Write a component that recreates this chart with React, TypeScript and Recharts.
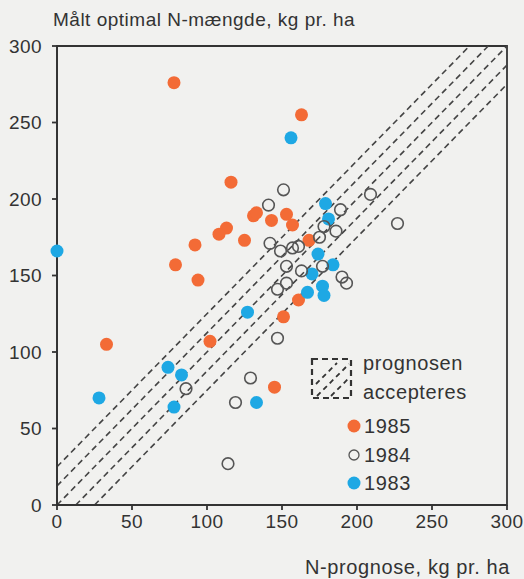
import {
  ScatterChart,
  Scatter,
  XAxis,
  YAxis,
  ReferenceLine,
  ReferenceArea,
} from 'recharts'

// [N-prognose, målt optimal N-mængde]
const year1985: [number, number][] = [
  [78, 276], [163, 255], [116, 211], [131, 189], [133, 191], [143, 186],
  [153, 190], [157, 183], [113, 181], [108, 177], [125, 173], [92, 170],
  [79, 157], [94, 147], [168, 173], [161, 134], [151, 123], [102, 107],
  [33, 105], [145, 77],
]

const year1984: [number, number][] = [
  [141, 196], [151, 206], [189, 193], [209, 203], [227, 184], [178, 182],
  [186, 179], [142, 171], [175, 175], [149, 166], [157, 168], [161, 169],
  [153, 156], [163, 153], [177, 156], [190, 149], [193, 145], [147, 141],
  [153, 145], [147, 109], [86, 76], [129, 83], [119, 67], [114, 27],
]

const year1983: [number, number][] = [
  [0, 166], [156, 240], [179, 197], [181, 187], [174, 164], [184, 157],
  [170, 151], [177, 143], [178, 137], [167, 139], [127, 126], [74, 90],
  [83, 85], [78, 64], [28, 70], [133, 67],
]

// band where the prognosis is accepted: y = x + offset
const bandOffsets = [-25, -12.5, 0, 12.5, 25]
const axisTicks = [0, 50, 100, 150, 200, 250, 300]

const ORANGE = '#f36b36'
const BLUE = '#1ea8e4'
const INK = '#333333'
const FONT = '"Liberation Sans", Arial, sans-serif'

const toPoints = (rows: [number, number][]) => rows.map(([x, y]) => ({ x, y }))

const filledDot = (color: string) => (props: any) => (
  <circle cx={props.cx} cy={props.cy} r={6.5} fill={color} />
)

const openDot = (props: any) => (
  <circle cx={props.cx} cy={props.cy} r={5.8} fill="none" stroke="#555" strokeWidth={1.6} />
)

function HatchBox() {
  return (
    <svg width={44} height={44} style={{ display: 'block' }}>
      <rect x={2} y={2} width={39} height={39} fill="none" stroke={INK} strokeWidth={2.2} strokeDasharray="6 4" />
      <line x1={6} y1={27} x2={27} y2={6} stroke={INK} strokeWidth={1.8} strokeDasharray="5 4" />
      <line x1={7} y1={39} x2={39} y2={7} stroke={INK} strokeWidth={1.8} strokeDasharray="5 4" />
      <line x1={21} y1={39} x2={39} y2={21} stroke={INK} strokeWidth={1.8} strokeDasharray="5 4" />
    </svg>
  )
}

const legendRows = [
  { label: '1985', cy: 426, kind: 'orange' },
  { label: '1984', cy: 455, kind: 'open' },
  { label: '1983', cy: 483, kind: 'blue' },
]

export default function App() {
  const textStyle = { fontFamily: FONT, color: INK, position: 'absolute' as const, whiteSpace: 'nowrap' as const }
  const tickStyle = { fill: INK, fontSize: 19, fontFamily: FONT, letterSpacing: 0.4 }

  return (
    <div style={{ position: 'absolute', left: 0, top: 0, width: 524, height: 579, background: '#f1f1ef' }}>
      <div style={{ ...textStyle, left: 53, top: 9, fontSize: 19, letterSpacing: 0.5, lineHeight: '22px' }}>
        Målt optimal N-mængde, kg pr. ha
      </div>
      <ScatterChart width={524} height={579} margin={{ top: 46, right: 17, bottom: 44, left: 0 }}>
        <XAxis
          type="number"
          dataKey="x"
          domain={[0, 300]}
          ticks={axisTicks}
          stroke={INK}
          strokeWidth={1.8}
          tickSize={5}
          tickMargin={5}
          height={30}
          tick={tickStyle}
        />
        <YAxis
          type="number"
          dataKey="y"
          domain={[0, 300]}
          ticks={axisTicks}
          stroke={INK}
          strokeWidth={1.8}
          tickSize={5}
          tickMargin={10}
          width={57}
          tick={tickStyle}
        />
        <ReferenceArea x1={0} x2={300} y1={0} y2={300} fill="none" stroke={INK} strokeWidth={1.8} />
        {bandOffsets.map((d) => (
          <ReferenceLine
            key={d}
            segment={d >= 0 ? [{ x: 0, y: d }, { x: 300 - d, y: 300 }] : [{ x: -d, y: 0 }, { x: 300, y: 300 + d }]}
            stroke="#444"
            strokeWidth={1.6}
            strokeDasharray="6 4"
          />
        ))}
        <Scatter data={toPoints(year1985)} shape={filledDot(ORANGE)} isAnimationActive={false} />
        <Scatter data={toPoints(year1983)} shape={filledDot(BLUE)} isAnimationActive={false} />
        <Scatter data={toPoints(year1984)} shape={openDot} isAnimationActive={false} />
      </ScatterChart>
      <div style={{ ...textStyle, right: 14, top: 555, fontSize: 20, letterSpacing: 0.6, lineHeight: '24px' }}>
        N-prognose, kg pr. ha
      </div>

      <div style={{ position: 'absolute', left: 310, top: 357 }}>
        <HatchBox />
      </div>
      <div style={{ ...textStyle, left: 363, top: 349, fontSize: 20, letterSpacing: 0.6, lineHeight: '29px' }}>
        prognosen<br />accepteres
      </div>
      {legendRows.map((e) => (
        <div key={e.label}>
          <svg width={16} height={16} style={{ position: 'absolute', left: 346, top: e.cy - 8 }}>
            {e.kind === 'open' ? (
              <circle cx={8} cy={8} r={5} fill="none" stroke="#555" strokeWidth={1.3} />
            ) : (
              <circle cx={8} cy={8} r={6.5} fill={e.kind === 'orange' ? ORANGE : BLUE} />
            )}
          </svg>
          <div style={{ ...textStyle, left: 364, top: e.cy - 12, fontSize: 20, letterSpacing: 0.6, lineHeight: '24px' }}>
            {e.label}
          </div>
        </div>
      ))}
    </div>
  )
}
